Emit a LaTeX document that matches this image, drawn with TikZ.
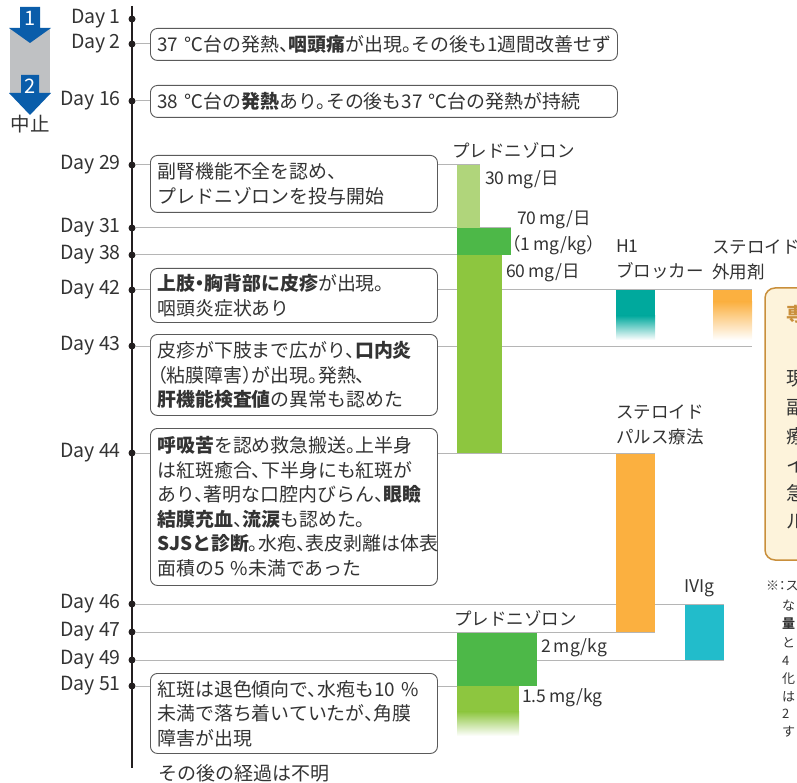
\documentclass[tikz,border=0pt]{standalone}
\usepackage{fontspec}
\setmainfont{Noto Sans CJK JP}[RawFeature=+halt]
\definecolor{tl}{HTML}{231F20}
\definecolor{gl}{HTML}{B5B5B5}
\definecolor{txt}{HTML}{333333}
\definecolor{bx}{HTML}{5A5A5A}
\definecolor{lgreen}{HTML}{B0D57B}
\definecolor{dgreen}{HTML}{4DB848}
\definecolor{mgreen}{HTML}{8DC63F}
\definecolor{tealA}{HTML}{00A99D}
\definecolor{orng}{HTML}{FBB040}
\definecolor{ivig}{HTML}{22BCCB}
\definecolor{blu}{HTML}{0A5DAA}
\definecolor{gry}{HTML}{BFC1C3}
\definecolor{cream}{HTML}{FDF3DB}
\definecolor{brwn}{HTML}{C98F3B}
\begin{document}
\begin{tikzpicture}[x=1pt,y=-1pt,
  daylbl/.style={anchor=east,font=\fontsize{19.5}{21}\selectfont,text=txt,inner sep=0pt},
  tdot/.style={circle,fill=tl,inner sep=0pt,minimum size=7pt},
  evbox/.style 2 args={draw=bx,line width=0.9pt,rounded corners=7pt,fill=white,anchor=north west,
    align=left,font=\fontsize{18.9}{24.5}\selectfont,text=txt,inner xsep=7pt,inner ysep=0pt,
    text width=#1,minimum height=#2},
  drug/.style={anchor=west,font=\fontsize{17.5}{25}\selectfont,text=txt,inner sep=0pt,align=left},
  hline/.style={draw=gl,line width=1pt}]
\useasboundingbox (0,0) rectangle (797,783);
\clip (0,0) rectangle (797,783);

% left arrows
\fill[gry] (10,28) rectangle (50,93);
\fill[blu] (20,7) -- (40,7) -- (40,28) -- (51,28) -- (30,43) -- (9,28) -- (20,28) -- cycle;
\node[text=white,font=\fontsize{20}{22}\selectfont,inner sep=0pt] (n1) at (30,18) {1};
\fill[blu] (21,75) -- (39,75) -- (39,93) -- (51,93) -- (30,115) -- (9,93) -- (21,93) -- cycle;
\node[text=white,font=\fontsize{20}{22}\selectfont,inner sep=0pt] (n2) at (30,86) {2};
\node[text=txt,font=\fontsize{19.5}{21}\selectfont,inner sep=0pt] (stop) at (30,124) {中止};

% timeline
\coordinate (ttop) at (132,6);
\coordinate (tbot) at (132,768);
\draw[tl,line width=2pt] (ttop) -- (tbot);

% dots and labels
\foreach \n/\y in {1/19,2/44,16/101,29/165,31/228,38/255,42/290,43/346,44/453,46/604,47/632,49/660,51/686}{
  \node[tdot] (d\n) at (132,\y) {};
  \node[daylbl] (l\n) at (121,\y) {Day \n};
}

% boxes
\node[evbox={453pt}{32pt}] (b2) at (150,28) {37 ℃台の発熱、{\bfseries 咽頭痛}が出現。その後も1週間改善せず};
\node[evbox={453pt}{32pt}] (b16) at (150,85) {38 ℃台の{\bfseries 発熱}あり。その後も37 ℃台の発熱が持続};
\node[evbox={273pt}{57pt}] (b29) at (150,155) {副腎機能不全を認め、\\プレドニゾロンを投与開始};
\node[evbox={273pt}{54pt}] (b42) at (150,268) {{\bfseries 上肢・胸背部に皮疹}が出現。\\咽頭炎症状あり};
\node[evbox={273pt}{81pt}] (b43) at (150,334) {皮疹が下肢まで広がり、{\bfseries 口内炎}\\（粘膜障害）が出現。発熱、\\{\bfseries 肝機能検査値}の異常も認めた};
\node[evbox={273pt}{157pt}] (b44) at (150,428) {{\bfseries 呼吸苦}を認め救急搬送。上半身\\は紅斑癒合、下半身にも紅斑が\\あり、著明な口腔内びらん、{\bfseries 眼瞼}\\{\bfseries 結膜充血}、{\bfseries 流涙}も認めた。\\{\bfseries SJSと診断}。水疱、表皮剥離は体表\\面積の5 \%未満であった};
\node[evbox={273pt}{80pt}] (b51) at (150,673) {紅斑は退色傾向で、水疱も10 \%\\未満で落ち着いていたが、角膜\\障害が出現};

% end coordinates
\coordinate (e29) at (480,165);
\coordinate (e31) at (511,228);
\coordinate (e38) at (502,255);
\coordinate (e42) at (752,290);
\coordinate (e43) at (752,346);
\coordinate (e44) at (655,453);
\coordinate (e46) at (724,604);
\coordinate (e47) at (655,632);
\coordinate (e49) at (724,660);
\coordinate (e51) at (457,686);

% connectors
\draw[hline] (d2.east) -- (d2 -| b2.west);
\draw[hline] (d16.east) -- (d16 -| b16.west);
\draw[hline] (d29.east) -- (d29 -| b29.west);
\draw[hline] (d29 -| b29.east) -- (e29);
\draw[hline] (d31.east) -- (e31);
\draw[hline] (d38.east) -- (e38);
\draw[hline] (d42.east) -- (d42 -| b42.west);
\draw[hline] (d42 -| b42.east) -- (e42);
\draw[hline] (d43.east) -- (d43 -| b43.west);
\draw[hline] (d43 -| b43.east) -- (e43);
\draw[hline] (d44.east) -- (d44 -| b44.west);
\draw[hline] (d44 -| b44.east) -- (e44);
\draw[hline] (d46.east) -- (e46);
\draw[hline] (d47.east) -- (e47);
\draw[hline] (d49.east) -- (e49);
\draw[hline] (d51.east) -- (d51 -| b51.west);
\draw[hline] (d51 -| b51.east) -- (e51);

% bars
\fill[lgreen] (457,165.5) rectangle (480,228);
\fill[dgreen] (457,228.5) rectangle (511,255);
\fill[mgreen] (457,255.5) rectangle (502,453);
\fill[tealA] (616,290.5) rectangle (655,316);
\shade[top color=tealA,bottom color=white] (616,315.5) rectangle (655,340);
\fill[orng] (713,290.5) rectangle (752,302);
\shade[top color=orng,bottom color=white] (713,301.5) rectangle (752,340);
\fill[orng] (616,454) rectangle (655,632);
\fill[ivig] (685,604.5) rectangle (724,660);
\fill[dgreen] (457,632.5) rectangle (537,685.5);
\fill[mgreen] (457,685.5) rectangle (519,712);
\shade[top color=mgreen,bottom color=white] (457,711.5) rectangle (519,736);

% drug labels
\node[drug] (p1) at (452,150) {プレドニゾロン};
\node[drug] (p30) at (485,180) {30\,mg/日};
\node[drug] (p70) at (517,220) {70\,mg/日};
\node[drug] (p70b) at (512,245) {（1\,mg/kg）};
\node[drug] (p60) at (506,273) {60\,mg/日};
\node[drug] (h1) at (616,259.5) {H1\\ブロッカー};
\node[drug] (ext) at (712,259.5) {ステロイド\\外用剤};
\node[drug] (pulse) at (616,424.5) {ステロイド\\パルス療法};
\node[drug] (iv) at (684,588) {IVIg};
\node[drug] (p2) at (454,618) {プレドニゾロン};
\node[drug] (p2mg) at (541,648) {2\,mg/kg};
\node[drug] (p15) at (522,698) {1.5\,mg/kg};

\node[anchor=west,font=\fontsize{19}{20}\selectfont,text=txt,inner sep=0pt] (after) at (158,773) {その後の経過は不明};

% right box (cut off by the frame, as in the reference)
\draw[brwn,fill=cream,line width=1.5pt,rounded corners=10pt] (765,288) rectangle (840,560);
\begin{scope}[every node/.style={anchor=west,font=\fontsize{19}{20}\selectfont,text=txt,inner sep=0pt}]
\node[text=brwn,font=\fontsize{19}{20}\selectfont\bfseries] (r0) at (786,314) {専};
\node (r1) at (786,379) {現};
\node (r2) at (786,407) {副};
\node (r3) at (786,436) {療};
\node (r4) at (786,465) {イ};
\node (r5) at (786,493) {急};
\node (r6) at (786,522) {ル};
\end{scope}

% note (cut off by the frame)
\begin{scope}[every node/.style={anchor=west,font=\fontsize{13}{15}\selectfont,text=txt,inner sep=0pt}]
\node (m0) at (766,586) {※：ス};
\node (m1) at (782,606) {な};
\node[font=\fontsize{13}{15}\selectfont\bfseries] (m2) at (782,624) {量};
\node (m3) at (782,643) {と};
\node (m4) at (782,661) {4};
\node (m5) at (782,679) {化};
\node (m6) at (782,697) {は};
\node (m7) at (782,714) {2};
\node (m8) at (782,732) {す};
\end{scope}
\end{tikzpicture}
\end{document}
